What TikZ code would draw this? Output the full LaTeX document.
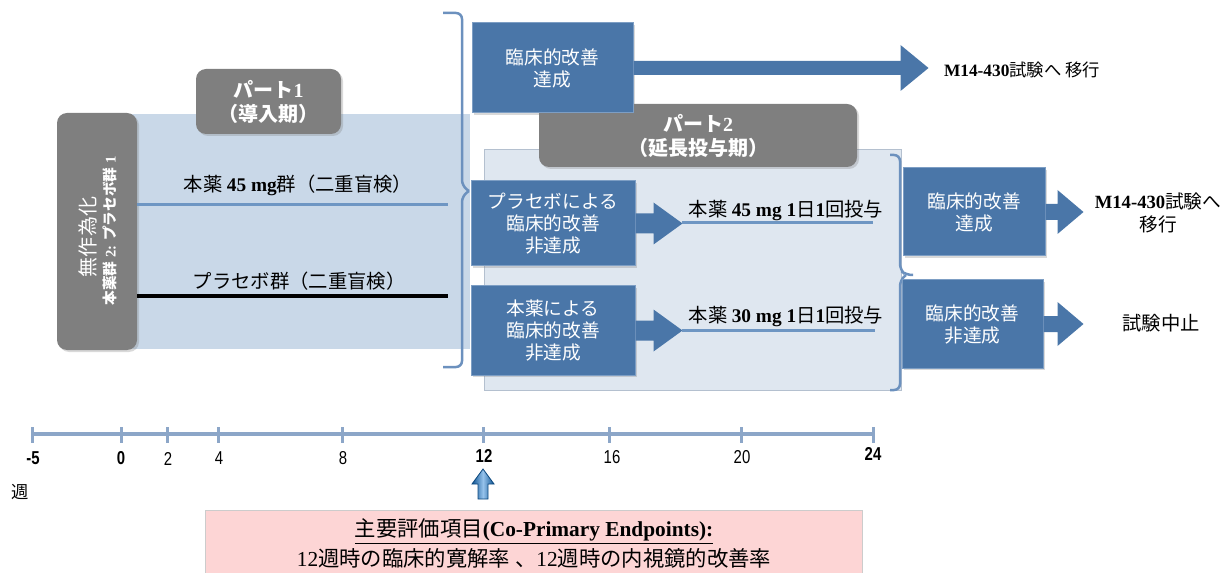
\documentclass[tikz,border=0pt]{standalone}
\usepackage{fontspec}
\setmainfont{Noto Sans CJK JP}
\newfontfamily\tnr{Liberation Serif}
\newfontfamily\lsans{Liberation Sans}
\usetikzlibrary{shadows}
\newdimen\upx \upx=0.75pt
\newcommand\fsz[2]{\fontsize{#1}{#2}\selectfont}
\newcommand\nrw[1]{\scalebox{0.8}[1]{#1}}
\definecolor{boxblue}{RGB}{74,118,168}
\definecolor{boxedge}{RGB}{125,158,196}
\definecolor{grayb}{RGB}{127,127,127}
\definecolor{p1bg}{RGB}{201,216,232}
\definecolor{p2bg}{RGB}{223,231,240}
\definecolor{p2edge}{RGB}{180,192,207}
\definecolor{bracec}{RGB}{108,145,190}
\definecolor{tline}{RGB}{140,166,200}
\definecolor{bline}{RGB}{110,150,195}
\definecolor{pinkb}{RGB}{253,213,213}
\definecolor{upblue}{RGB}{20,120,210}
\newcommand\blockarrow[5]{\fill[boxblue] (#1) ++(0,-#3) -- ++(#2,0) -- ++(0,#3-#4) -- ++(#5,#4) -- ++(-#5,#4) -- ++(0,#3-#4) -- ++(-#2,0) -- cycle;}
\tikzset{
  bluebox/.style={draw=boxedge, line width=1\upx, fill=boxblue, text=white, align=center, inner sep=0pt,
    font=\fsz{14}{16.5}, drop shadow={shadow xshift=1.5pt, shadow yshift=-1.5pt, opacity=0.3}},
  graybox/.style={fill=grayb, text=white, align=center, inner sep=0pt, rounded corners=10\upx,
    font=\bfseries\fsz{15}{18}, drop shadow={shadow xshift=1.5pt, shadow yshift=-1.5pt, opacity=0.3}},
  bracestyle/.style={draw=bracec, line width=2.5\upx, rounded corners=6\upx},
  lbl/.style={inner sep=0pt, align=center},
  tick/.style={draw=tline, line width=3\upx},
  tl/.style={inner sep=0pt, font=\lsans\fsz{14}{16}},
}
\begin{document}
\begin{tikzpicture}[x=0.75pt, y=-0.75pt]
\useasboundingbox (0,0) rectangle (1226,573);
% backgrounds
\fill[p1bg] (130,114) rectangle (470,349);
\draw[p2edge, fill=p2bg, line width=1\upx] (484,150) rectangle (901,390);
% randomization box
\node[graybox, minimum width=80\upx, minimum height=237\upx] (rand) at (97,231.5) {};
\node[lbl, rotate=90, text=white, font=\fsz{15}{18}] (randt1) at (88,237) {無作為化};
\node[lbl, rotate=90, text=white, font=\bfseries\fsz{11}{13}] (randt2) at (110,231) {本薬群{\tnr\bfseries\ 2:} プラセボ群{\tnr\bfseries\ 1}};
% part1 lines
\coordinate (g1s) at (137,205); \coordinate (g1e) at (448,205);
\coordinate (g2s) at (137,296); \coordinate (g2e) at (448,296);
\draw[bline, line width=3\upx] (g1s) -- (g1e);
\draw[black, line width=4\upx] (g2s) -- (g2e);
\node[lbl, font=\fsz{14.5}{17}] (g1t) at (298,185) {本薬 {\tnr\bfseries 45 mg}群（二重盲検）};
\node[lbl, font=\fsz{14.5}{17}] (g2t) at (299,281) {プラセボ群（二重盲検）};
% part1 label
\node[graybox, minimum width=145\upx, minimum height=65\upx] (p1lab) at (268.5,101.5) {パート{\tnr\bfseries 1}\\（導入期）};
% bracket 1
\draw[bracestyle] (443,13) -| (462,186) -- (469,191);
\draw[bracestyle] (443,367) -| (462,196) -- (469,191);
% part2 label
\node[graybox, minimum width=318\upx, minimum height=63\upx] (p2lab) at (698,135.5) {パート{\tnr\bfseries 2}\\（延長投与期）};
% boxes
\node[bluebox, minimum width=161\upx, minimum height=90\upx] (b1) at (552.5,68) {臨床的改善\\達成};
\node[bluebox, minimum width=164\upx, minimum height=85\upx] (b2) at (553,223.5) {プラセボによる\\臨床的改善\\非達成};
\node[bluebox, minimum width=164\upx, minimum height=89\upx] (b3) at (553,330.5) {本薬による\\臨床的改善\\非達成};
% arrows part 2
\blockarrow{b1.east}{267}{7}{23}{28}
\node[lbl, font=\fsz{13}{15}] (m1) at (1022,70) {{\tnr\bfseries M14-430}試験へ 移行};
\blockarrow{b2.east}{18}{10}{21}{29}
\blockarrow{b3.east}{18}{10}{21}{29}
\coordinate (d1s) at (682,223); \coordinate (d1e) at (873,223);
\coordinate (d2s) at (682,330); \coordinate (d2e) at (875,330);
\draw[bline, line width=3\upx] (d1s) -- (d1e);
\draw[bline, line width=3\upx] (d2s) -- (d2e);
\node[lbl, font=\fsz{14.5}{17}] (d1t) at (786,210) {本薬 {\tnr\bfseries 45 mg 1}日{\tnr\bfseries 1}回投与};
\node[lbl, font=\fsz{14.5}{17}] (d2t) at (786,316) {本薬 {\tnr\bfseries 30 mg 1}日{\tnr\bfseries 1}回投与};
% bracket 2
\draw[bracestyle] (890,155) -| (900,270) -- (906,275) -- (913,275);
\draw[bracestyle] (890,390) -| (900,280) -- (906,275);
% right boxes
\node[bluebox, minimum width=142\upx, minimum height=88\upx] (bR1) at (974,212) {臨床的改善\\達成};
\node[bluebox, minimum width=141\upx, minimum height=88\upx] (bR2) at (972.5,324) {臨床的改善\\非達成};
\blockarrow{bR1.east}{12}{8}{22}{26}
\blockarrow{bR2.east}{14}{8}{22}{26}
\node[lbl, font=\fsz{14}{17}] (m2) at (1158,213) {{\tnr\bfseries M14-430}試験へ\\移行};
\node[lbl, font=\fsz{14.5}{16}] (stop) at (1161,323) {試験中止};
% timeline
\coordinate (t0) at (32,434); \coordinate (t8) at (873,434);
\draw[tline, line width=4.5\upx] (t0) -- (t8);
\foreach \x in {32,121,167,218,342,483,609,741,873} {\draw[tick] (\x,427) -- (\x,443);}
\node[tl] (lm5) at (33,458) {\bfseries\nrw{-5}};
\node[tl] (l0) at (121,458) {\bfseries\nrw{0}};
\node[tl] (l2) at (168,459) {\nrw{2}};
\node[tl] (l4) at (219,458) {\nrw{4}};
\node[tl] (l8) at (343,458) {\nrw{8}};
\node[tl] (l12) at (484,456) {\bfseries\nrw{12}};
\node[tl] (l16) at (612,457) {\nrw{16}};
\node[tl] (l20) at (742,457) {\nrw{20}};
\node[tl] (l24) at (873,454) {\bfseries\nrw{24}};
\node[lbl, font=\fsz{13}{15}] (wk) at (20,492) {週};
% up arrow
\shade[left color=upblue!70!black, right color=upblue!70!black, middle color=upblue!45!white, draw=upblue!60!black, line width=0.8\upx]
  (483,469) -- (494,484) -- (488,484) -- (488,499) -- (478,499) -- (478,484) -- (472,484) -- cycle;
% pink box
\draw[fill=pinkb, draw=black!20, line width=1\upx] (205,510) rectangle (862,585);
\node[lbl, font=\fsz{16}{19}] (ep1) at (534,531) {\underline{主要評価項目{\tnr\bfseries (Co-Primary Endpoints):}}};
\node[lbl, font=\fsz{16}{19}] (ep2) at (534,558) {{\tnr 12}週時の臨床的寛解率 、{\tnr 12}週時の内視鏡的改善率};
\end{tikzpicture}
\end{document}
